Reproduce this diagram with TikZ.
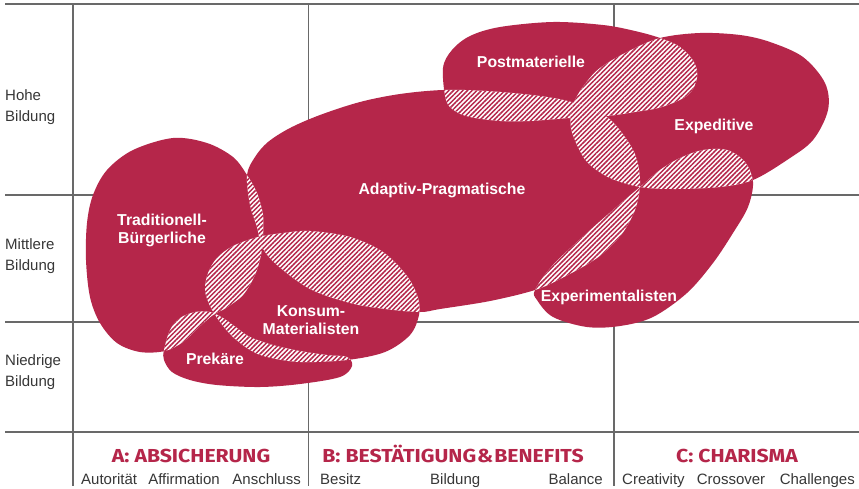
\documentclass[tikz,border=0pt]{standalone}
\usepackage{fontspec}
\setmainfont{Liberation Sans}
\newfontfamily\headfont[FakeStretch=1.13]{Fira Sans}
\usetikzlibrary{patterns.meta}
\definecolor{mred}{RGB}{181,38,74}
\definecolor{gridc}{RGB}{105,105,105}
\definecolor{txtc}{RGB}{55,55,55}

\def\pTrad{plot[smooth cycle,tension=0.55] coordinates {(173,138) (207,143) (233,157) (247,175) (257,193) (263,215) (263,237) (261,255) (255,275) (243,295) (226,308) (213,315) (198,328) (183,342) (165,351) (140,352) (117,343) (100,323) (90,297) (86,260) (87,223) (93,195) (107,170) (133,150)}}
\def\pAdapt{plot[smooth cycle,tension=0.55] coordinates {(247,175) (255,157) (268,142) (290,128) (320,115) (360,102) (400,94) (443,90) (487,91) (540,96) (575,103) (607,117) (627,140) (637,160) (640,185) (635,210) (621,235) (597,258) (562,278) (535,290) (490,301) (440,309) (420,312) (385,309) (350,303) (310,289) (277,265) (262,247) (257,227) (250,205)}}
\def\pKons{plot[smooth cycle,tension=0.55] coordinates {(258,237) (283,233) (310,231) (350,237) (383,252) (407,276) (418,298) (419,315) (410,335) (385,352) (347,360) (300,362) (267,357) (250,350) (233,337) (220,322) (210,306) (205,290) (208,273) (217,258) (233,246)}}
\def\pPrek{plot[smooth cycle,tension=0.55] coordinates {(164,350) (170,330) (180,318) (195,312) (210,312) (223,318) (237,328) (250,337) (273,345) (300,351) (327,355) (347,357) (352,366) (340,377) (300,384) (260,387) (217,385) (190,380) (172,372) (164,360)}}
\def\pPost{plot[smooth cycle,tension=0.55] coordinates {(443,68) (452,50) (470,36) (500,27) (553,22) (603,25) (635,31) (660,38) (680,47) (694,62) (697,78) (688,95) (662,107) (635,112) (607,116) (570,118) (530,121) (500,121) (470,117) (455,111) (446,100)}}
\def\pExped{plot[smooth cycle,tension=0.55] coordinates {(660,38) (700,33) (740,35) (770,42) (803,57) (825,83) (828,110) (813,140) (787,160) (753,180) (720,187) (675,189) (640,187) (610,178) (588,163) (577,145) (571,128) (571,114) (575,100) (585,84) (600,68) (627,52)}}
\def\pExper{plot[smooth cycle,tension=0.55] coordinates {(640,187) (660,170) (680,158) (703,150) (727,150) (745,162) (753,182) (748,207) (733,233) (713,263) (687,293) (653,317) (620,326) (587,327) (553,317) (537,300) (535,290) (553,265) (587,233) (613,210)}}

\newcommand{\hatchpair}[2]{%
  \begin{scope}
    \clip #1;
    \fill[white] #2;
    \fill[hatch] #2;
  \end{scope}}

\begin{document}
\begin{tikzpicture}[x=1pt,y=-1pt,
  blob/.style={fill=mred},
  hatch/.style={pattern={Lines[angle=45,distance=3.3pt,line width=1.5pt]},pattern color=mred},
  gridline/.style={draw=gridc,line width=1.1pt},
  lbl/.style={text=white,font=\fontsize{15.8}{18}\selectfont\bfseries,align=center,inner sep=0pt},
  axis/.style={text=txtc,font=\fontsize{15}{21}\selectfont,align=left,anchor=west,inner sep=0pt},
  head/.style={text=mred,font=\headfont\fontsize{18.8}{20}\selectfont\bfseries,anchor=base,inner sep=0pt},
  sub/.style={text=txtc,font=\fontsize{15}{18}\selectfont,inner sep=0pt}]
\useasboundingbox (0,0) rectangle (859,488);
\fill[white] (0,0) rectangle (859,488);

% grid
\draw[gridline] (5,4) -- (859,4);
\draw[gridline] (5,195) -- (859,195);
\draw[gridline] (5,322) -- (859,322);
\draw[gridline] (5,432) -- (859,432);
\draw[gridline] (73,4) -- (73,486);
\draw[gridline] (308.5,4) -- (308.5,486);
\draw[gridline] (614,4) -- (614,486);

% blobs
\fill[blob] \pTrad;
\fill[blob] \pAdapt;
\fill[blob] \pKons;
\fill[blob] \pPrek;
\fill[blob] \pPost;
\fill[blob] \pExped;
\fill[blob] \pExper;

% overlaps
\hatchpair{\pTrad}{\pAdapt}
\hatchpair{\pTrad}{\pKons}
\hatchpair{\pTrad}{\pPrek}
\hatchpair{\pKons}{\pAdapt}
\hatchpair{\pKons}{\pPrek}
\hatchpair{\pPost}{\pAdapt}
\hatchpair{\pPost}{\pExped}
\hatchpair{\pAdapt}{\pExped}
\hatchpair{\pAdapt}{\pExper}
\hatchpair{\pExped}{\pExper}

% blob labels
\node[lbl] (trad) at (162,230) {Traditionell-\\Bürgerliche};
\node[lbl,anchor=base] (adapt) at (442,194.5) {Adaptiv-Pragmatische};
\node[lbl,anchor=base] (post) at (531,67) {Postmaterielle};
\node[lbl,anchor=base] (exped) at (714,130) {Expeditive};
\node[lbl,anchor=base] (exper) at (609,301) {Experimentalisten};
\node[lbl] (kons) at (311,320) {Konsum-\\Materialisten};
\node[lbl,anchor=base] (prek) at (215,364) {Prekäre};

% axis labels
\node[axis] (hohe) at (5,106.8) {Hohe\\Bildung};
\node[axis] (mittl) at (5,256) {Mittlere\\Bildung};
\node[axis] (niedr) at (5,372.6) {Niedrige\\Bildung};

% headers
\node[head] (ha) at (191,462) {A: ABSICHERUNG};
\node[head] (hb) at (453,462) {B: BESTÄTIGUNG\hspace{1pt}\&\hspace{1pt}BENEFITS};
\node[head] (hc) at (737,462) {C: CHARISMA};

% sub labels
\node[sub,anchor=base west] (s1) at (81,484) {Autorität};
\node[sub,anchor=base] (s2) at (184,484) {Affirmation};
\node[sub,anchor=base east] (s3) at (301,484) {Anschluss};
\node[sub,anchor=base west] (s4) at (320,484) {Besitz};
\node[sub,anchor=base west] (s5) at (430,484) {Bildung};
\node[sub,anchor=base east] (s6) at (603,484) {Balance};
\node[sub,anchor=base west] (s7) at (622,484) {Creativity};
\node[sub,anchor=base] (s8) at (731,484) {Crossover};
\node[sub,anchor=base east] (s9) at (855,484) {Challenges};
\end{tikzpicture}
\end{document}
